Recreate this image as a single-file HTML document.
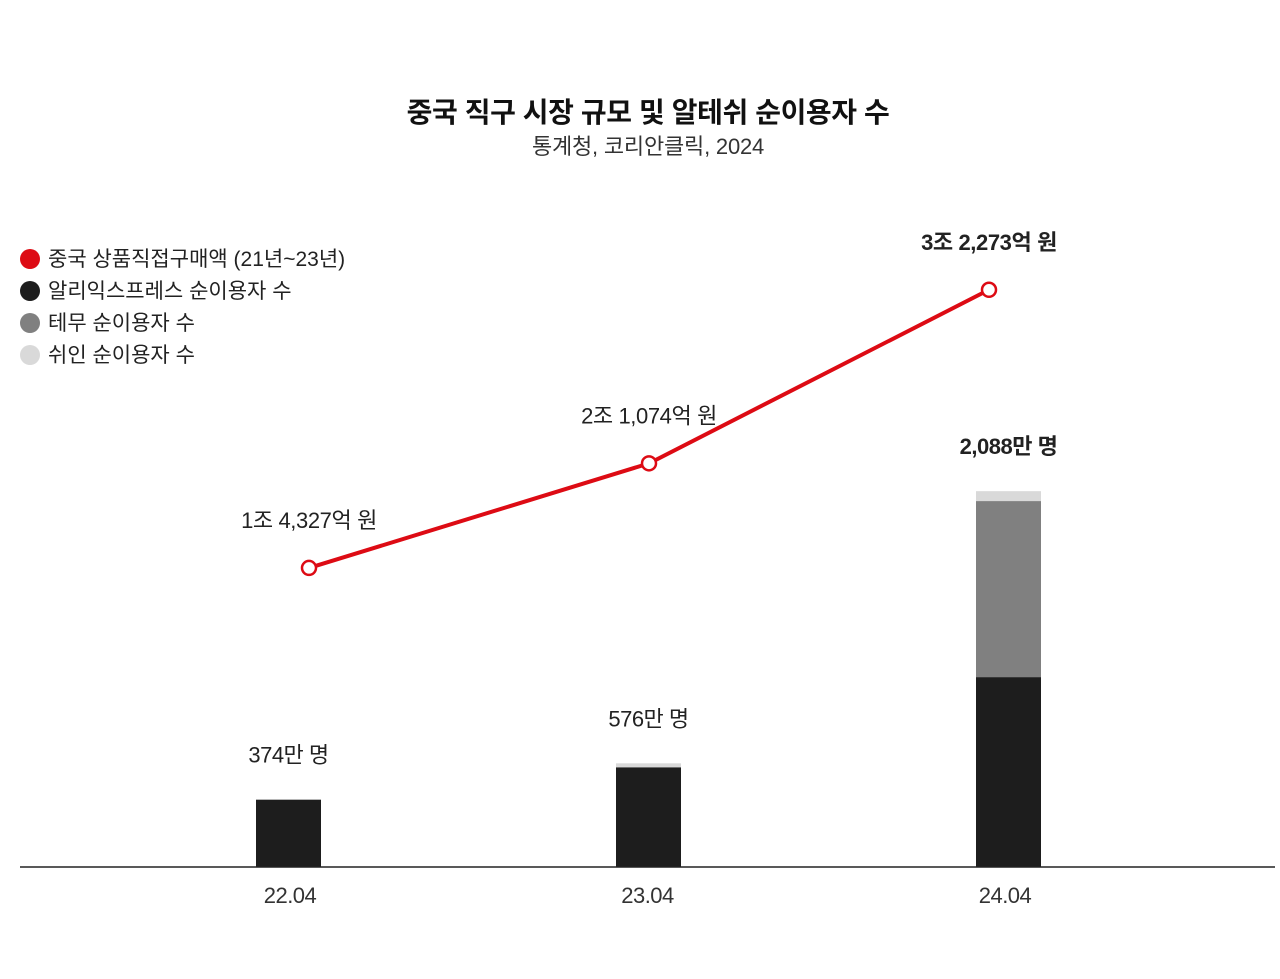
<!DOCTYPE html>
<html><head><meta charset="utf-8"><style>
body{margin:0;background:#fff;font-family:"Liberation Sans","Noto Sans CJK KR",sans-serif}
svg text{font-family:"Liberation Sans","Noto Sans CJK KR",sans-serif}
</style></head><body>
<svg id="chart" width="1280" height="974" xmlns="http://www.w3.org/2000/svg">
<text x="648" y="122" text-anchor="middle" font-size="28" font-weight="bold" fill="#111" letter-spacing="-0.4">중국 직구 시장 규모 및 알테쉬 순이용자 수</text>
<text x="648" y="154" text-anchor="middle" font-size="22" fill="#333" letter-spacing="-0.2">통계청, 코리안클릭, 2024</text>
<g font-size="21" fill="#222" letter-spacing="0">
<g><circle cx="30" cy="259" r="10" fill="#dd0b14"/><text x="48" y="266">중국 상품직접구매액 (21년~23년)</text></g>
<g><circle cx="30" cy="291" r="10" fill="#1d1d1d"/><text x="48" y="298">알리익스프레스 순이용자 수</text></g>
<g><circle cx="30" cy="323" r="10" fill="#808080"/><text x="48" y="330">테무 순이용자 수</text></g>
<g><circle cx="30" cy="355" r="10" fill="#d9d9d9"/><text x="48" y="362">쉬인 순이용자 수</text></g>
</g>
<g id="bars"></g><g id="line"></g>
<line x1="20" y1="867" x2="1275" y2="867" stroke="#222" stroke-width="1.5"/>
</svg>
<script>
const categories=["22.04","23.04","24.04"];
const ali=[374,554,1055];
const temu=[0,0,978];
const shein=[0,22,55];
const totalLabels=["374만 명","576만 명","2,088만 명"];
const sales=[14327,21074,32273];
const salesLabels=["1조 4,327억 원","2조 1,074억 원","3조 2,273억 원"];
const NS="http://www.w3.org/2000/svg";
const gb=document.getElementById('bars'),gl=document.getElementById('line');
const barX=i=>288.5+i*360, lineX=i=>309+i*340, tickX=i=>290+i*357.5;
const yB=v=>867-v*0.18, yL=v=>790-v*0.0155;
function mk(t,a,p){const e=document.createElementNS(NS,t);for(const k in a)e.setAttribute(k,a[k]);p.appendChild(e);return e;}
categories.forEach((c,i)=>{
  let base=0;
  [[ali,'#1d1d1d','bar-aliexpress'],[temu,'#808080','bar-temu'],[shein,'#d9d9d9','bar-shein']].forEach(([arr,col,nm])=>{
    const v=arr[i]; if(v<=0)return;
    const r=mk('rect',{x:barX(i)-32.5,y:yB(base+v),width:65,height:yB(base)-yB(base+v),fill:col},gb);
    
    
    base+=v;
  });
  const t=mk('text',{x:barX(i),y:yB(base)-37,'text-anchor':'middle','font-size':22,fill:'#222','letter-spacing':'-0.5','font-weight':i==2?'bold':'normal'},gb);
  t.textContent=totalLabels[i];
  
  
  const xl=mk('text',{x:tickX(i),y:903,'text-anchor':'middle','font-size':22,fill:'#333','letter-spacing':'-0.5'},gb);
  xl.textContent=c;
  
  
});
const pts=sales.map((v,i)=>lineX(i)+','+yL(v)).join(' ');
const pl=mk('polyline',{points:pts,fill:'none',stroke:'#dd0b14','stroke-width':4},gl);


sales.forEach((v,i)=>{
  const c=mk('circle',{cx:lineX(i),cy:yL(v),r:7,fill:'#fff',stroke:'#dd0b14','stroke-width':2.5},gl);
  
  
  const t=mk('text',{x:lineX(i),y:yL(v)-40,'text-anchor':'middle','font-size':22,fill:'#222','letter-spacing':'-0.4','font-weight':i==2?'bold':'normal'},gl);
  t.textContent=salesLabels[i];
  
  
});
</script>
</body></html>
